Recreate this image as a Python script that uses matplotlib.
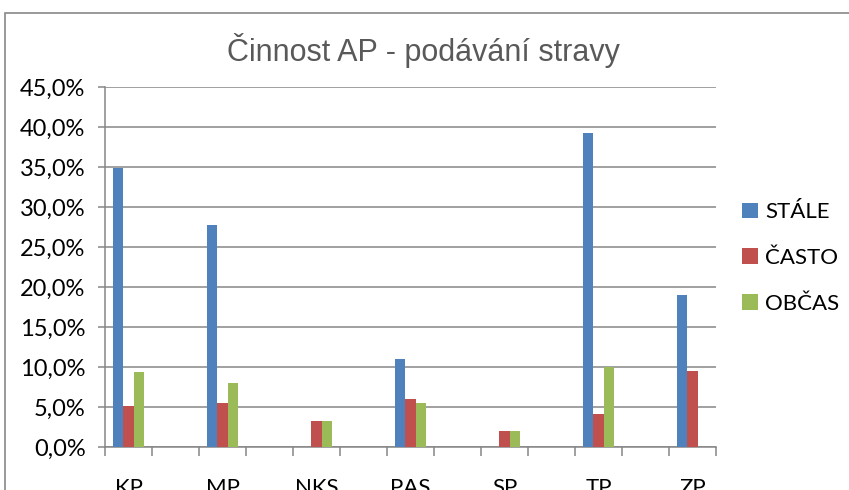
import numpy as np
import matplotlib
matplotlib.use("Agg")
import matplotlib.pyplot as plt
from matplotlib.patches import Rectangle
from matplotlib.ticker import FuncFormatter

# -------------------- data --------------------
categories = ['KP', 'MP', 'NKS', 'PAS', 'SP', 'TP', 'ZP']
stale = [34.9, 27.7, 0.0, 11.0, 0.0, 39.2, 19.0]
casto = [5.1, 5.5, 3.2, 6.0, 2.0, 4.1, 9.5]
obcas = [9.4, 8.0, 3.2, 5.5, 2.0, 10.0, 0.0]
series_names = ['STÁLE', 'ČASTO', 'OBČAS']
colors = ['#4F81BD', '#C0504D', '#9BBB59']
title = 'Činnost AP - podávání stravy'
y_ticks = [0, 5, 10, 15, 20, 25, 30, 35, 40, 45]

plt.rcParams['font.family'] = ['Lato', 'DejaVu Sans']

fig = plt.figure(figsize=(8.49, 4.90), dpi=100)
ax = fig.add_axes([105 / 849, 1 - 447 / 490, 611 / 849, 360 / 490])

# every category sits in every other slot (blank slots in between)
n_slots = 2 * len(categories) - 1
x = np.arange(len(categories)) * 2
w = 10.3 / 47.0
for i, (vals, name, c) in enumerate(zip([stale, casto, obcas], series_names, colors)):
    ax.bar(x + (i - 1) * w, vals, width=w, color=c, label=name, zorder=3)

ax.set_xlim(-0.5, n_slots - 0.5)
ax.set_ylim(0, 45)
ax.set_yticks(y_ticks)
ax.yaxis.set_major_formatter(FuncFormatter(lambda v, p: f'{v:.1f}%'.replace('.', ',')))
ax.grid(axis='y', color='#868686', linewidth=1.1, zorder=0)

ax.set_xticks(x)
ax.set_xticklabels(categories)
ax.set_xticks(np.arange(n_slots + 1) - 0.5, minor=True)
ax.tick_params(axis='x', which='major', length=0, pad=22, labelsize=16, colors='black')
ax.tick_params(axis='x', which='minor', length=6.5, width=1.1, color='#868686', direction='out')
ax.tick_params(axis='y', length=5, width=1.1, color='#868686', labelsize=17, pad=9)

for s in ['top', 'right']:
    ax.spines[s].set_visible(False)
for s in ['left', 'bottom']:
    ax.spines[s].set_color('#868686')
    ax.spines[s].set_linewidth(1.1)

fig.text(423 / 849, 1 - 50 / 490, title, ha='center', va='center',
         fontsize=22, color='#595959', family=['Liberation Sans', 'DejaVu Sans'])

fig.legend(loc='center left', bbox_to_anchor=(722 / 849, 1 - 258 / 490), frameon=False,
           fontsize=16, handlelength=0.7, handleheight=0.7, handletextpad=0.35,
           labelspacing=1.15)

# chart border (cropped)
fig.patches.append(Rectangle((5 / 849, -0.2), 1.2, 1 - 13 / 490 + 0.2, transform=fig.transFigure,
                             fill=False, edgecolor='#888888', linewidth=1.2))

fig.savefig('out.png', dpi=100)
